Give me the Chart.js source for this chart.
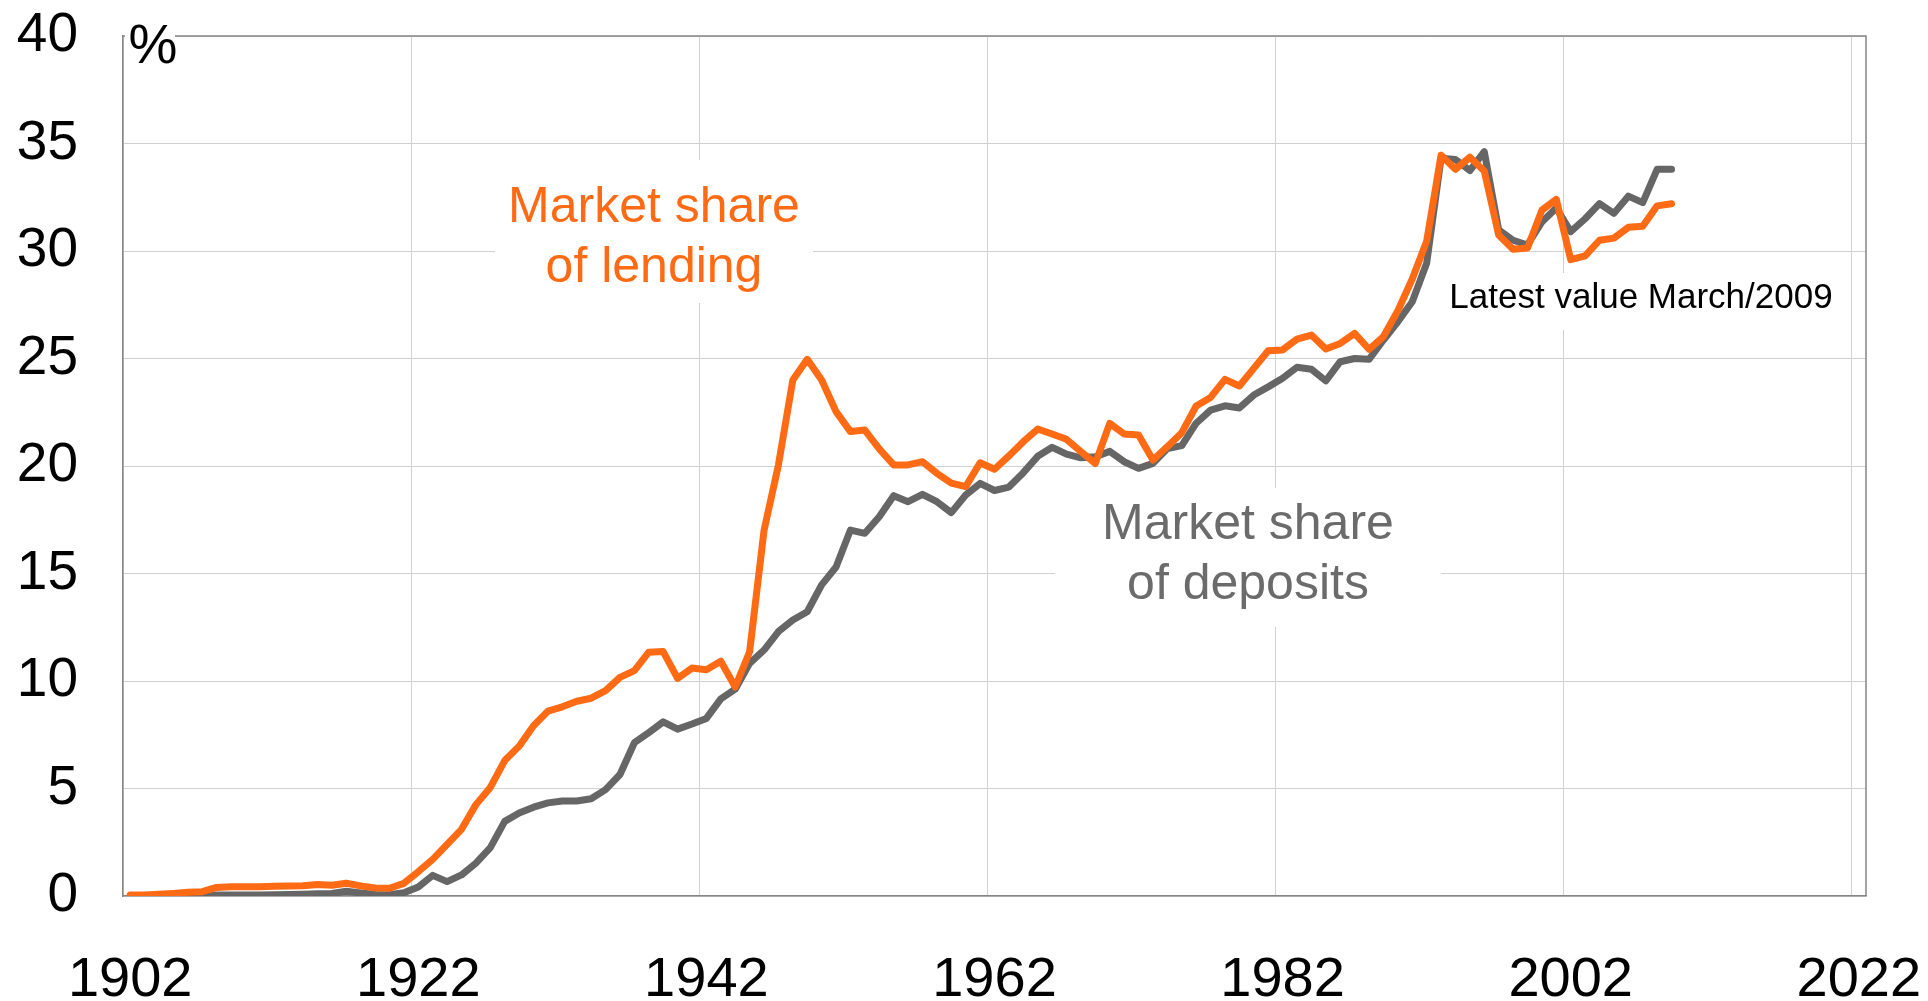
<!DOCTYPE html>
<html>
<head>
<meta charset="utf-8">
<title>Market share</title>
<script src="https://cdn.jsdelivr.net/npm/chart.js@4.4.1/dist/chart.umd.min.js"></script>
<style>
  html, body { margin: 0; padding: 0; background: #fff; }
  #wrap { width: 1928px; height: 1001px; position: relative; }
</style>
</head>
<body>
<div id="wrap"><canvas id="grafico"></canvas></div>
<script>
const anos = [
  1902, 1903, 1904, 1905, 1906, 1907, 1908, 1909, 1910, 1911,
  1912, 1913, 1914, 1915, 1916, 1917, 1918, 1919, 1920, 1921,
  1922, 1923, 1924, 1925, 1926, 1927, 1928, 1929, 1930, 1931,
  1932, 1933, 1934, 1935, 1936, 1937, 1938, 1939, 1940, 1941,
  1942, 1943, 1944, 1945, 1946, 1947, 1948, 1949, 1950, 1951,
  1952, 1953, 1954, 1955, 1956, 1957, 1958, 1959, 1960, 1961,
  1962, 1963, 1964, 1965, 1966, 1967, 1968, 1969, 1970, 1971,
  1972, 1973, 1974, 1975, 1976, 1977, 1978, 1979, 1980, 1981,
  1982, 1983, 1984, 1985, 1986, 1987, 1988, 1989, 1990, 1991,
  1992, 1993, 1994, 1995, 1996, 1997, 1998, 1999, 2000, 2001,
  2002, 2003, 2004, 2005, 2006, 2007, 2008, 2009, 2010, 2011,
  2012, 2013, 2014, 2015, 2016, 2017, 2018, 2019, 2020, 2021,
  2022
];

const anosComRotulo = [1902, 1922, 1942, 1962, 1982, 2002, 2022];

// market share of lending, 1902 - 2009
const emprestimos = [
  0.05, 0.05, 0.08, 0.12, 0.17, 0.2, 0.4, 0.43, 0.43, 0.43,
  0.45, 0.47, 0.48, 0.54, 0.5, 0.59, 0.47, 0.37, 0.36, 0.59,
  1.13, 1.7, 2.4, 3.1, 4.25, 5.05, 6.3, 6.97, 7.92, 8.6,
  8.8, 9.06, 9.2, 9.55, 10.17, 10.48, 11.34, 11.37, 10.12, 10.6,
  10.52, 10.92, 9.72, 11.36, 17.0, 20.05, 24.0, 24.96, 24.0, 22.53,
  21.6, 21.67, 20.8, 20.05, 20.05, 20.2, 19.66, 19.2, 19.04, 20.15,
  19.85, 20.47, 21.13, 21.72, 21.49, 21.24, 20.67, 20.12, 21.98, 21.49,
  21.44, 20.28, 20.9, 21.55, 22.79, 23.19, 24.03, 23.72, 24.54, 25.36,
  25.4, 25.9, 26.09, 25.44, 25.7, 26.17, 25.43, 26.02, 27.22, 28.7,
  30.45, 34.45, 33.8, 34.36, 33.72, 30.74, 30.08, 30.14, 31.9, 32.4,
  29.6, 29.77, 30.5, 30.6, 31.1, 31.15, 32.1, 32.2
];

// market share of deposits, 1902 - 2009
const depositos = [
  0.0, 0.0, 0.0, 0.0, 0.0, 0.02, 0.05, 0.05, 0.05, 0.05,
  0.06, 0.07, 0.08, 0.1, 0.12, 0.22, 0.14, 0.07, 0.06, 0.15,
  0.42, 0.96, 0.67, 0.98, 1.53, 2.25, 3.47, 3.86, 4.13, 4.33,
  4.42, 4.42, 4.52, 4.95, 5.65, 7.13, 7.6, 8.1, 7.76, 8.0,
  8.26, 9.17, 9.62, 10.82, 11.44, 12.3, 12.84, 13.22, 14.47, 15.3,
  17.02, 16.87, 17.64, 18.62, 18.34, 18.68, 18.34, 17.83, 18.65, 19.19,
  18.86, 19.02, 19.69, 20.45, 20.87, 20.55, 20.38, 20.43, 20.68, 20.2,
  19.89, 20.12, 20.81, 20.95, 21.99, 22.6, 22.8, 22.7, 23.3, 23.68,
  24.08, 24.59, 24.5, 23.96, 24.85, 25.0, 24.96, 25.86, 26.71, 27.64,
  29.43, 34.31, 34.26, 33.74, 34.62, 30.98, 30.5, 30.28, 31.35, 32.0,
  30.9, 31.5, 32.2, 31.75, 32.55, 32.25, 33.8, 33.8
];

const LARANJA = '#ff6a14';
const CINZA = '#666666';
const GRADE = '#d0d0d0';
const FONTE = '"Liberation Sans", Arial, Helvetica, sans-serif';

// caixas brancas com os textos por cima da grade
const anotacoes = {
    id: 'anotacoes',
    beforeDatasetsDraw(chart) {
        const ctx = chart.ctx;
        const area = chart.chartArea;
        ctx.save();

        ctx.strokeStyle = '#868686';
        ctx.lineWidth = 1.5;
        ctx.beginPath();
        ctx.moveTo(area.left, area.top);
        ctx.lineTo(area.right, area.top);
        ctx.lineTo(area.right, area.bottom);
        ctx.stroke();

        ctx.fillStyle = '#ffffff';
        ctx.fillRect(125, 28, 50, 16);
        ctx.fillRect(495, 160, 318, 143);
        ctx.fillRect(1055, 488, 386, 139);
        ctx.fillRect(1440, 273, 400, 57);

        ctx.textAlign = 'center';
        ctx.textBaseline = 'alphabetic';

        ctx.fillStyle = '#000000';
        ctx.font = '55px ' + FONTE;
        ctx.fillText('%', 153, 63);

        ctx.fillStyle = LARANJA;
        ctx.font = '50px ' + FONTE;
        ctx.fillText('Market share', 654, 222);
        ctx.fillText('of lending', 654, 282);

        ctx.fillStyle = '#6b6b6b';
        ctx.fillText('Market share', 1248, 539);
        ctx.fillText('of deposits', 1248, 599);

        ctx.fillStyle = '#000000';
        ctx.font = '35px ' + FONTE;
        ctx.fillText('Latest value March/2009', 1641, 308);

        ctx.restore();
    }
};

function semFolga(scale) {
    scale.paddingLeft = 0;
    scale.paddingRight = 0;
    scale.paddingTop = 0;
    scale.paddingBottom = 0;
}

function desenharGrafico() {
    const ctx = document.getElementById('grafico').getContext('2d');
    new Chart(ctx, {
        type: 'line',
        data: {
            labels: anos,
            datasets: [{
                label: 'Market share of lending',
                data: emprestimos,
                borderColor: LARANJA,
                borderWidth: 7,
                borderJoinStyle: 'round',
                borderCapStyle: 'round',
                pointRadius: 0,
                tension: 0
            }, {
                label: 'Market share of deposits',
                data: depositos,
                borderColor: CINZA,
                borderWidth: 7,
                borderJoinStyle: 'round',
                borderCapStyle: 'round',
                pointRadius: 0,
                tension: 0
            }]
        },
        options: {
            responsive: true,
            maintainAspectRatio: false,
            animation: false,
            devicePixelRatio: 1,
            layout: {
                padding: { left: 0, top: 36, right: 62, bottom: 0 }
            },
            plugins: {
                legend: { display: false },
                tooltip: { enabled: false }
            },
            scales: {
                x: {
                    type: 'category',
                    offset: true,
                    grid: {
                        offset: true,
                        drawTicks: false,
                        lineWidth: 1,
                        color: c => (c.index !== undefined && c.index % 20 === 0) ? GRADE : 'rgba(0,0,0,0)'
                    },
                    border: { display: true, color: '#868686', width: 1.5 },
                    ticks: {
                        autoSkip: false,
                        maxRotation: 0,
                        minRotation: 0,
                        padding: 51,
                        color: '#000000',
                        font: { family: FONTE, size: 56 },
                        callback: function(valor, i) {
                            const ano = anos[i];
                            return anosComRotulo.includes(ano) ? String(ano) : '';
                        }
                    },
                    afterFit: scale => { scale.height = 105; semFolga(scale); }
                },
                y: {
                    min: 0,
                    max: 40,
                    grid: {
                        drawTicks: false,
                        color: GRADE,
                        lineWidth: 1
                    },
                    border: { display: true, color: '#868686', width: 1.5 },
                    ticks: {
                        stepSize: 5,
                        padding: 45,
                        color: '#000000',
                        font: { family: FONTE, size: 55 }
                    },
                    afterFit: scale => { scale.width = 123; semFolga(scale); }
                }
            }
        },
        plugins: [anotacoes]
    });
}

document.addEventListener('DOMContentLoaded', desenharGrafico);
</script>
</body>
</html>
